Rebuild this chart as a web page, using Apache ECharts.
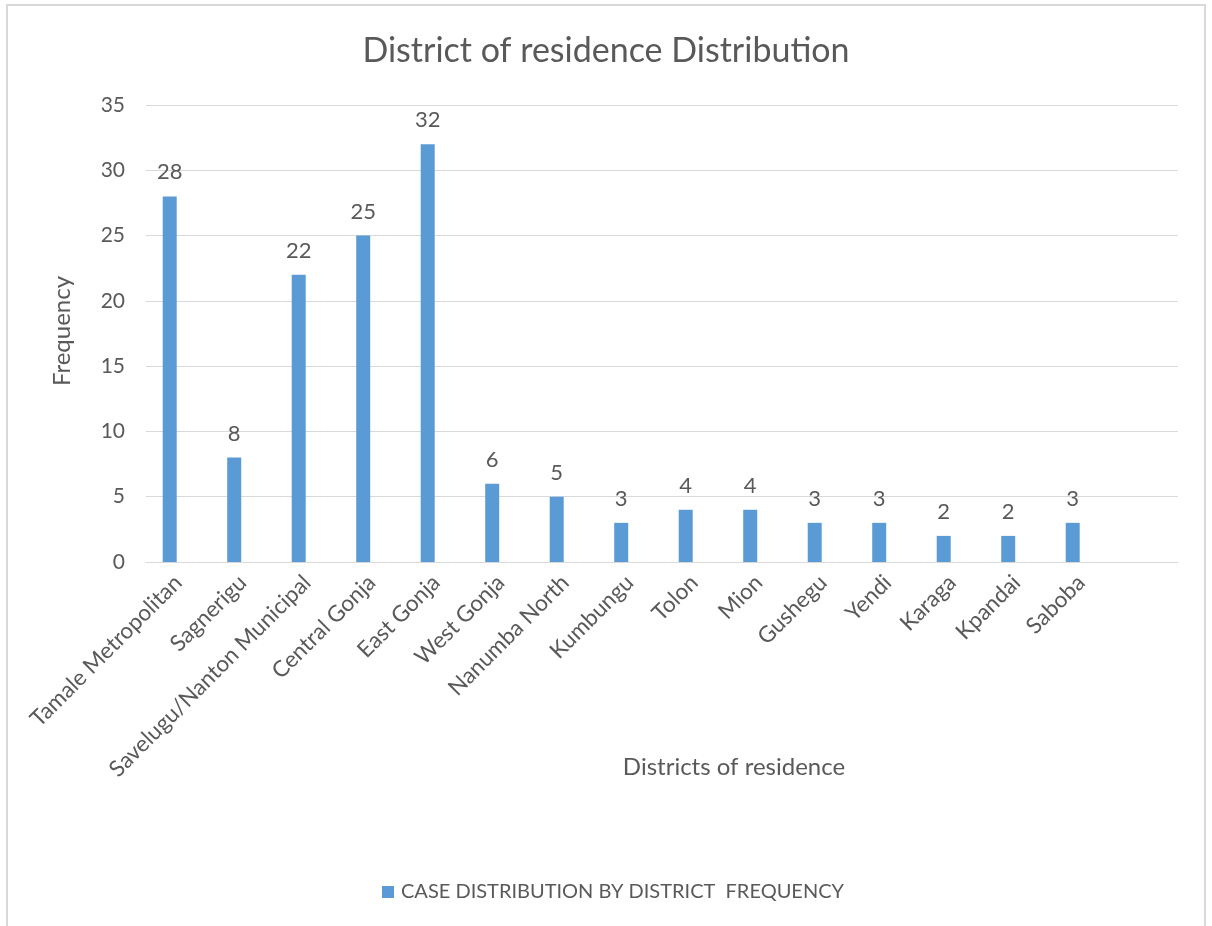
<!DOCTYPE html>
<html>
<head>
<meta charset="utf-8">
<title>District of residence Distribution</title>
<script src="https://cdn.jsdelivr.net/npm/echarts@6/dist/echarts.min.js"></script>
<style>
  html, body { margin: 0; padding: 0; background: #ffffff; }
  #chart { width: 1212px; height: 926px; }
</style>
</head>
<body>
<div id="chart"></div>
<script>
// District names (the trailing blank slot keeps an empty band at the right end)
const districts = [
  'Tamale Metropolitan', 'Sagnerigu', 'Savelugu/Nanton Municipal', 'Central Gonja',
  'East Gonja', 'West Gonja', 'Nanumba North', 'Kumbungu', 'Tolon', 'Mion',
  'Gushegu', 'Yendi', 'Karaga', 'Kpandai', 'Saboba', ''
];
// Number of cases per district
const frequency = [28, 8, 22, 25, 32, 6, 5, 3, 4, 4, 3, 3, 2, 2, 3, null];
// Empty companion series so the bars sit left of each band centre
const companion = districts.map(() => null);

const seriesName = 'CASE DISTRIBUTION BY DISTRICT  FREQUENCY';
const yTicks = { min: 0, max: 35, interval: 5 };

const FONT = 'Lato, "Open Sans", sans-serif';
const TEXT = '#595959';
const GRID = '#D9D9D9';

const chart = echarts.init(document.getElementById('chart'), null, { renderer: 'canvas' });

chart.setOption({
  backgroundColor: '#ffffff',
  animation: false,
  textStyle: { fontFamily: FONT, color: TEXT },
  title: {
    text: 'District of residence Distribution',
    left: 'center',
    top: 29,
    textStyle: { fontFamily: FONT, fontSize: 34, fontWeight: 'normal', color: TEXT }
  },
  legend: {
    data: [seriesName],
    left: 377,
    top: 877,
    icon: 'rect',
    itemWidth: 12,
    itemHeight: 12,
    itemGap: 10,
    textStyle: { fontFamily: FONT, fontSize: 20, color: TEXT, padding: [0, 0, 0, 2] }
  },
  grid: { left: 146, right: 34, top: 105, bottom: 364, containLabel: false },
  xAxis: {
    type: 'category',
    data: districts,
    axisLine: { show: true, lineStyle: { color: GRID, width: 1 } },
    axisTick: { show: false },
    axisLabel: {
      interval: 0,
      rotate: 45,
      margin: 17,
      fontFamily: FONT,
      fontSize: 22.5,
      color: TEXT
    }
  },
  yAxis: {
    type: 'value',
    min: yTicks.min,
    max: yTicks.max,
    interval: yTicks.interval,
    axisLine: { show: false },
    axisTick: { show: false },
    splitLine: { lineStyle: { color: GRID, width: 1 } },
    axisLabel: { margin: 21, fontFamily: FONT, fontSize: 21, color: TEXT }
  },
  series: [
    {
      name: seriesName,
      type: 'bar',
      data: frequency,
      barWidth: 14,
      barGap: '22%',
      itemStyle: { color: '#5B9BD5' },
      label: {
        show: true,
        position: 'top',
        distance: 13,
        fontFamily: FONT,
        fontSize: 22,
        color: TEXT
      }
    },
    {
      name: '_companion',
      type: 'bar',
      data: companion,
      barWidth: 14,
      silent: true,
      itemStyle: { color: 'transparent' }
    }
  ],
  graphic: [
    {
      type: 'rect',
      shape: { x: 7, y: 5, width: 1198, height: 950 },
      style: { fill: 'none', stroke: '#D9D9D9', lineWidth: 2 },
      silent: true
    },
    {
      type: 'text',
      x: 62,
      y: 331,
      rotation: Math.PI / 2,
      style: {
        text: 'Frequency',
        fontFamily: FONT,
        fontSize: 24,
        fill: TEXT,
        align: 'center',
        verticalAlign: 'middle'
      }
    },
    {
      type: 'text',
      x: 734,
      y: 767,
      style: {
        text: 'Districts of residence',
        fontFamily: FONT,
        fontSize: 24,
        fill: TEXT,
        align: 'center',
        verticalAlign: 'middle'
      }
    }
  ]
});
</script>
</body>
</html>
